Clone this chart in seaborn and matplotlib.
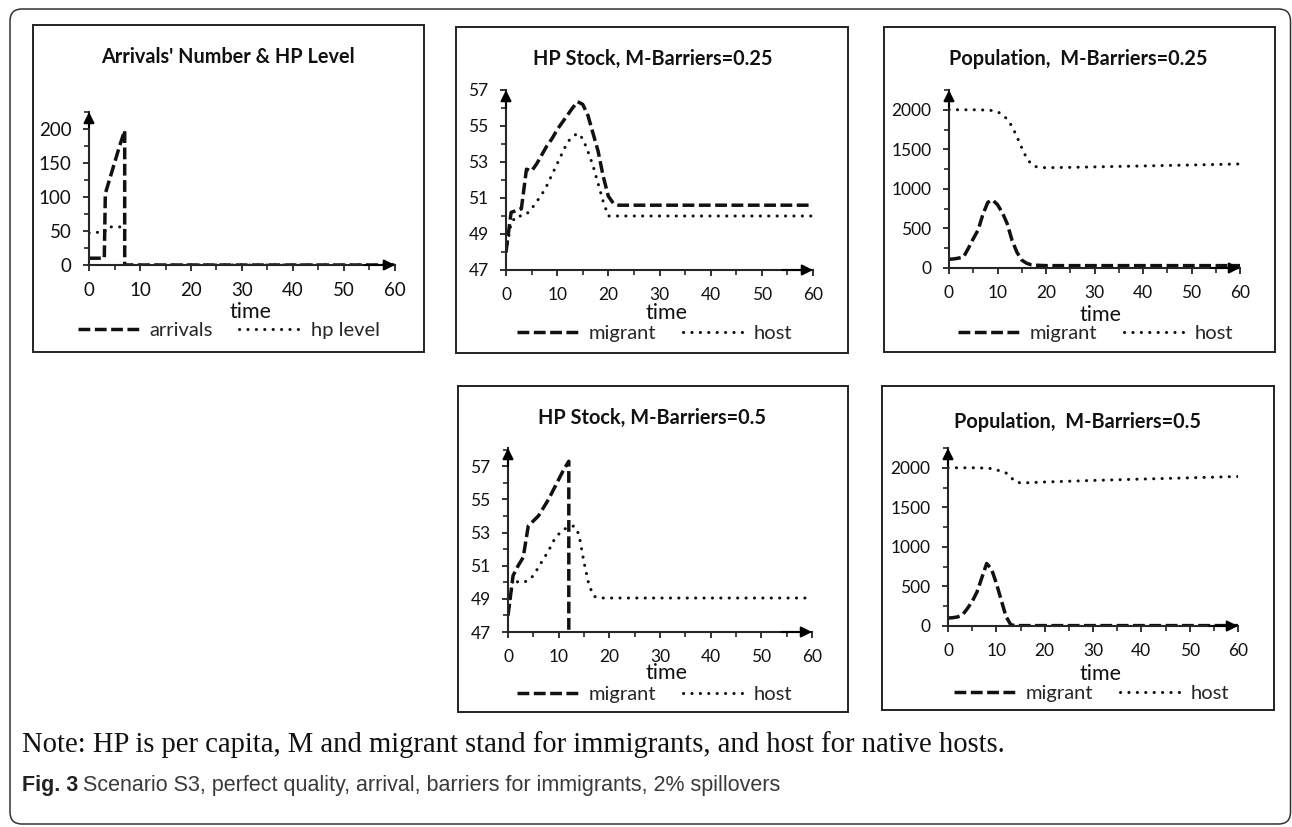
import seaborn as sns
import matplotlib.pyplot as plt
from matplotlib.patches import Rectangle, FancyBboxPatch
from matplotlib.ticker import MultipleLocator

# Arrivals' Number & HP Level
arr_t = [0, 1, 2, 3, 3.2, 4, 5, 6, 7, 7, 60]
arr_v = [10, 10, 10, 10, 105, 125, 150, 175, 198, 0, 0]
hpl_t = [0, 1, 2, 3, 3.5, 4, 5, 6, 7, 7, 60]
hpl_v = [47, 48, 48, 48, 55, 56, 56, 56, 56, 0, 0]

# HP Stock, M-Barriers=0.25
hp25_t = [0, 1, 2, 3, 4, 5, 6, 7, 8, 9, 10, 11, 12, 13, 14, 15, 16, 17, 18, 19, 20, 21, 22, 30, 40, 50, 60]
hp25_mig = [48.0, 50.2, 50.3, 50.4, 52.6, 52.5, 52.9, 53.4, 53.9, 54.3, 54.8, 55.2, 55.6, 56.0, 56.35, 56.2,
            55.6, 54.6, 53.6, 52.2, 51.1, 50.7, 50.6, 50.6, 50.6, 50.6, 50.6]
hp25_host = [48.0, 49.6, 50.0, 50.0, 50.1, 50.4, 50.8, 51.2, 51.7, 52.3, 52.9, 53.5, 54.1, 54.4, 54.6, 54.3,
             53.6, 52.8, 51.8, 50.8, 50.0, 50.0, 50.0, 50.0, 50.0, 50.0, 50.0]

# Population, M-Barriers=0.25
pop25_mig_t = [0, 1, 2, 3, 4, 5, 6, 7, 8, 9, 10, 11, 12, 13, 14, 15, 16, 17, 18, 20, 30, 40, 50, 60]
pop25_mig = [110, 115, 125, 140, 250, 370, 480, 680, 830, 860, 800, 700, 560, 350, 200, 100, 60, 40, 35, 30,
             30, 30, 30, 30]
pop25_host_t = [0, 2, 4, 6, 8, 9, 10, 11, 12, 13, 14, 15, 16, 17, 18, 19, 20, 25, 30, 40, 50, 60]
pop25_host = [2000, 2000, 2000, 2000, 1995, 1990, 1975, 1940, 1880, 1790, 1660, 1520, 1390, 1310, 1280, 1270,
              1268, 1272, 1278, 1290, 1302, 1315]

# HP Stock, M-Barriers=0.5
hp5_mig_t = [0, 1, 2, 3, 4, 5, 6, 7, 8, 9, 10, 11, 12, 12, 20, 30, 40, 50, 60]
hp5_mig = [48.0, 50.4, 51.0, 51.5, 53.4, 53.7, 54.0, 54.5, 55.0, 55.6, 56.2, 56.8, 57.3, 0, 0, 0, 0, 0, 0]
hp5_host_t = [0, 1, 2, 3, 4, 5, 6, 7, 8, 9, 10, 11, 12, 13, 14, 15, 16, 17, 18, 20, 30, 40, 50, 60]
hp5_host = [48.0, 50.2, 50.0, 50.0, 50.1, 50.4, 50.9, 51.4, 51.9, 52.5, 52.9, 53.2, 53.3, 53.4, 52.9, 51.2,
            49.8, 49.15, 49.05, 49.05, 49.05, 49.05, 49.05, 49.05]

# Population, M-Barriers=0.5
pop5_mig_t = [0, 1, 2, 3, 4, 5, 6, 7, 8, 9, 10, 11, 12, 13, 14, 20, 30, 40, 50, 60]
pop5_mig = [100, 105, 115, 140, 220, 310, 430, 610, 790, 720, 540, 330, 120, 15, 5, 5, 5, 5, 5, 5]
pop5_host_t = [0, 2, 4, 6, 8, 9, 10, 11, 12, 13, 14, 15, 16, 20, 25, 30, 40, 50, 60]
pop5_host = [2000, 2000, 2000, 2000, 1995, 1990, 1975, 1955, 1935, 1880, 1820, 1810, 1810, 1820, 1830, 1840,
             1857, 1873, 1890]

note = "Note: HP is per capita, M and migrant stand for immigrants, and host for native hosts."
caption_bold = "Fig. 3"
caption = "Scenario S3, perfect quality, arrival, barriers for immigrants, 2% spillovers"

sns.set_style("ticks")
plt.rcParams['font.family'] = ['Lato', 'DejaVu Sans']
plt.rcParams['axes.linewidth'] = 1.5

W, H = 1292, 827
fig = plt.figure(figsize=(W / 100, H / 100), dpi=100)

DASH = dict(linestyle=(0, (3.4, 1.3)), linewidth=2.5, dash_capstyle='butt')
DOT = dict(linestyle=(0, (0.05, 2.7)), linewidth=2.2, dash_capstyle='round')

panels = [
    dict(box=(33, 25, 424, 352), ax=(89, 395, 265, 112), ylim=(0, 225), yt=(0, 201, 50), ymin=25, tsz=13.5,
         title="Arrivals' Number & HP Level", tpos=(228, 57), xl=(250, 312), lg=(229, 330),
         series=[(arr_t, arr_v, 'arrivals', DASH), (hpl_t, hpl_v, 'hp level', DOT)]),
    dict(box=(456, 27, 848, 353), ax=(506, 813, 270, 90), ylim=(47, 57), yt=(47, 58, 2), ymin=1, tsz=12.5,
         title="HP Stock, M-Barriers=0.25", tpos=(653, 59), xl=(667, 313), lg=(655, 333),
         series=[(hp25_t, hp25_mig, 'migrant', DASH), (hp25_t, hp25_host, 'host', DOT)]),
    dict(box=(884, 27, 1275, 352), ax=(949, 1240, 268, 90), ylim=(0, 2250), yt=(0, 2001, 500), ymin=250,
         tsz=12.5, title="Population,  M-Barriers=0.25", tpos=(1078, 59), xl=(1100, 315), lg=(1096, 333),
         series=[(pop25_mig_t, pop25_mig, 'migrant', DASH), (pop25_host_t, pop25_host, 'host', DOT)]),
    dict(box=(458, 386, 848, 712), ax=(508, 812, 632, 448), ylim=(47, 58.1), yt=(47, 58, 2), ymin=1, tsz=12.5,
         title="HP Stock, M-Barriers=0.5", tpos=(652, 418), xl=(667, 673), lg=(655, 694),
         series=[(hp5_mig_t, hp5_mig, 'migrant', DASH), (hp5_host_t, hp5_host, 'host', DOT)]),
    dict(box=(882, 386, 1274, 710), ax=(948, 1238, 626, 448), ylim=(0, 2250), yt=(0, 2001, 500), ymin=250,
         tsz=12.5, title="Population,  M-Barriers=0.5", tpos=(1078, 422), xl=(1100, 674), lg=(1092, 693),
         series=[(pop5_mig_t, pop5_mig, 'migrant', DASH), (pop5_host_t, pop5_host, 'host', DOT)]),
]

for p in panels:
    bx0, by0, bx1, by1 = p['box']
    fig.patches.append(Rectangle((bx0 / W, 1 - by1 / H), (bx1 - bx0) / W, (by1 - by0) / H,
                                 transform=fig.transFigure, fill=False, lw=1.4, ec='#222'))
    x0, x1, yb, yt = p['ax']
    ax = fig.add_axes([x0 / W, 1 - yb / H, (x1 - x0) / W, (yb - yt) / H])
    for t, v, lab, st in p['series']:
        sns.lineplot(x=t, y=v, ax=ax, color='#111', estimator=None, sort=False, label=lab, **st)
    ax.set_xlim(0, 60)
    ax.set_ylim(*p['ylim'])
    ax.set_xticks(range(0, 61, 10))
    ax.set_yticks(range(*p['yt']))
    ax.xaxis.set_minor_locator(MultipleLocator(5))
    ax.yaxis.set_minor_locator(MultipleLocator(p['ymin']))
    ax.tick_params(which='major', length=4.5, width=1.2, pad=8, labelsize=p['tsz'], colors='#111')
    ax.tick_params(which='minor', length=3.5, width=1.2)
    for s in ('top', 'right'):
        ax.spines[s].set_visible(False)
    ax.patch.set_alpha(0)
    # axis arrows
    ax.annotate('', xy=(0, 1.0), xytext=(0, 0.9), xycoords='axes fraction',
                arrowprops=dict(arrowstyle='-|>', color='k', lw=1.5, mutation_scale=16, shrinkA=0, shrinkB=0))
    ax.annotate('', xy=(1.0, 0), xytext=(0.9, 0), xycoords='axes fraction',
                arrowprops=dict(arrowstyle='-|>', color='k', lw=1.5, mutation_scale=16, shrinkA=0, shrinkB=0))
    ax.set_xlabel('time', fontsize=15.5, color='#111')
    ax.xaxis.set_label_coords(p['xl'][0] / W, 1 - p['xl'][1] / H, transform=fig.transFigure)
    ax.xaxis.label.set_verticalalignment('center')
    ax.set_ylabel('')
    ax.legend(loc='center', bbox_to_anchor=(p['lg'][0] / W, 1 - p['lg'][1] / H), bbox_transform=fig.transFigure,
              ncol=2, frameon=False, fontsize=14.5, handlelength=3.1, handletextpad=0.45, columnspacing=1.3,
              borderpad=0, borderaxespad=0)
    fig.text(p['tpos'][0] / W, 1 - p['tpos'][1] / H, p['title'], ha='center', va='center',
             fontsize=14.3, fontweight='bold', color='#111')

# outer rounded frame
fig.patches.append(FancyBboxPatch((0.10, 0.03), 12.805, 8.15, boxstyle="round,pad=0,rounding_size=0.12",
                                  transform=fig.dpi_scale_trans, fill=False, lw=1.1, ec='#333'))

fig.text(22 / W, 1 - 745 / H, note, ha='left', va='center', fontsize=20.6,
         family=['Liberation Serif', 'DejaVu Serif'], color='#111')
fb = fig.text(22 / W, 1 - 785 / H, caption_bold, ha='left', va='center', fontsize=15.5, fontweight='bold',
              family=['Liberation Sans', 'DejaVu Sans'], color='#222')
fig.canvas.draw()
bb = fb.get_window_extent()
fig.text((bb.x1 + 5) / W, 1 - 785 / H, caption, ha='left', va='center', fontsize=15.5,
         family=['Liberation Sans', 'DejaVu Sans'], color='#3a3a3a')

fig.savefig('out.png', dpi=100)
